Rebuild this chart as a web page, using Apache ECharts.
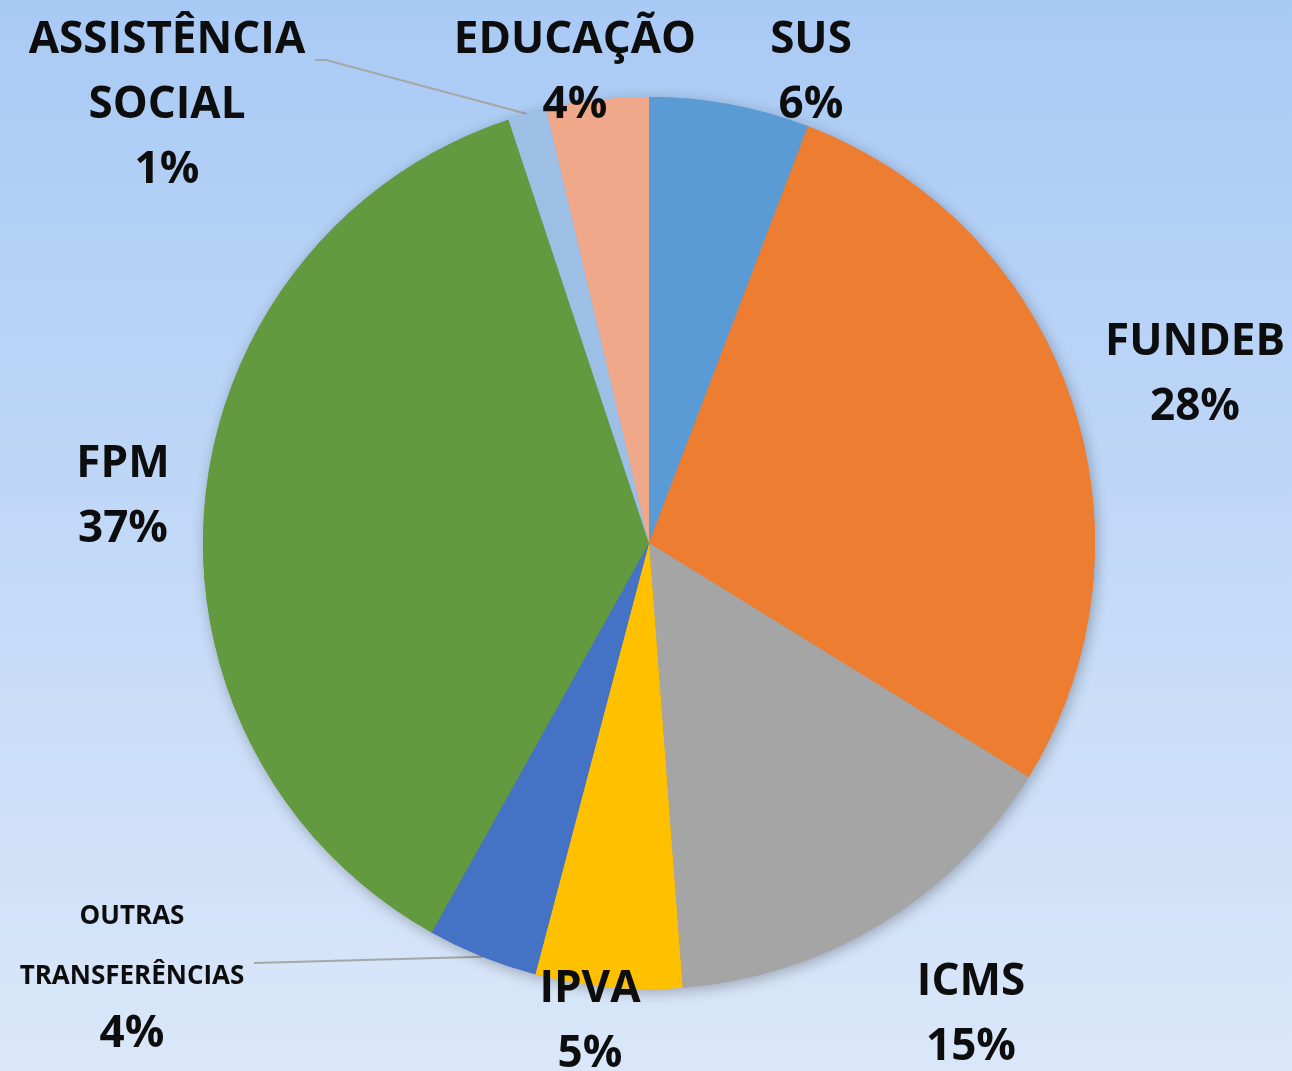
<!DOCTYPE html>
<html>
<head>
<meta charset="utf-8">
<script src="https://cdn.jsdelivr.net/npm/echarts@6/dist/echarts.min.js"></script>
<style>
  html, body { margin: 0; padding: 0; }
  #chart { width: 1292px; height: 1071px; }
</style>
</head>
<body>
<div id="chart"></div>
<script>
// fatias, no sentido horario a partir do topo
var categories = ['SUS', 'FUNDEB', 'ICMS', 'IPVA', 'OUTRAS\nTRANSFERÊNCIAS', 'FPM', 'ASSISTÊNCIA\nSOCIAL', 'EDUCAÇÃO'];
var values = [5.8, 28.0, 15.0, 5.3, 4.0, 36.8, 1.4, 3.7];
var colors = ['#5b9bd5', '#ed7d31', '#a5a5a5', '#ffc000', '#4472c4', '#63993f', '#9dbfe6', '#f0a88a'];

// posicao dos rotulos (centro do bloco de texto)
var labelCenters = [[811, 73], [1195, 375], [971, 1015], [590, 1022], [132, 974], [123, 497], [167, 105], [575, 73]];
// ponta das linhas de chamada (so OUTRAS e ASSISTENCIA)
var leaderEnds = { 4: [[254, 963]], 6: [[326, 60], [315, 60]] };

window.onload = function() {
	var chart = echarts.init(document.getElementById('chart'));

	var pieData = categories.map(function(name, i) {
		var item = { name: name, value: values[i], itemStyle: { color: colors[i] } };
		if (leaderEnds[i]) {
			item.labelLine = { show: true };
		}
		return item;
	});

	var option = {
		animation: false,
		backgroundColor: {
			type: 'linear', x: 0, y: 0, x2: 0, y2: 1,
			colorStops: [
				{ offset: 0, color: '#a9caf5' },
				{ offset: 1, color: '#dae7f9' }
			]
		},
		series: [
			{
				/* sombra da pizza */
				type: 'pie',
				silent: true,
				center: [649, 543],
				radius: 446,
				startAngle: 90,
				label: { show: false },
				labelLine: { show: false },
				itemStyle: {
					shadowBlur: 14,
					shadowColor: 'rgba(0,0,0,0.28)',
					shadowOffsetX: 2,
					shadowOffsetY: 3
				},
				data: values.map(function(v, i) {
					return { name: categories[i], value: v, itemStyle: { color: colors[i] } };
				})
			},
			{
				type: 'pie',
				center: [649, 543],
				radius: 446,
				startAngle: 90,
				avoidLabelOverlap: false,
				percentPrecision: 0,
				label: {
					show: true,
					position: 'outside',
					width: 400,
					overflow: 'none',
					fontFamily: 'Open Sans',
					color: '#0d0d0d',
					formatter: function(p) {
						var small = p.name.indexOf('OUTRAS') === 0;
						var st = small ? 's' : 'n';
						var lines = p.name.split('\n').map(function(t) {
							return '{' + st + '|' + t + '}';
						});
						lines.push('{' + (small ? 'q' : 'p') + '|' + p.percent + '%}');
						return lines.join('\n');
					},
					rich: {
						n: { fontFamily: 'Open Sans', fontWeight: 'bold', fontSize: 44, lineHeight: 65, color: '#0d0d0d' },
						p: { fontFamily: 'Open Sans', fontWeight: 'bold', fontSize: 44, lineHeight: 65, color: '#0d0d0d' },
						s: { fontFamily: 'Open Sans', fontWeight: 'bold', fontSize: 26, lineHeight: 60, color: '#0d0d0d' },
						q: { fontFamily: 'Open Sans', fontWeight: 'bold', fontSize: 44, lineHeight: 54, color: '#0d0d0d' }
					}
				},
				labelLine: {
					show: false,
					lineStyle: { color: '#a6a6a6', width: 2 }
				},
				labelLayout: function(params) {
					var c = labelCenters[params.dataIndex];
					var out = { x: c[0], y: c[1], align: 'center', verticalAlign: 'middle' };
					var ends = leaderEnds[params.dataIndex];
					if (ends && params.labelLinePoints) {
						out.labelLinePoints = [params.labelLinePoints[0]].concat(ends);
					}
					return out;
				},
				data: pieData
			}
		]
	};

	chart.setOption(option);
};
</script>
</body>
</html>
